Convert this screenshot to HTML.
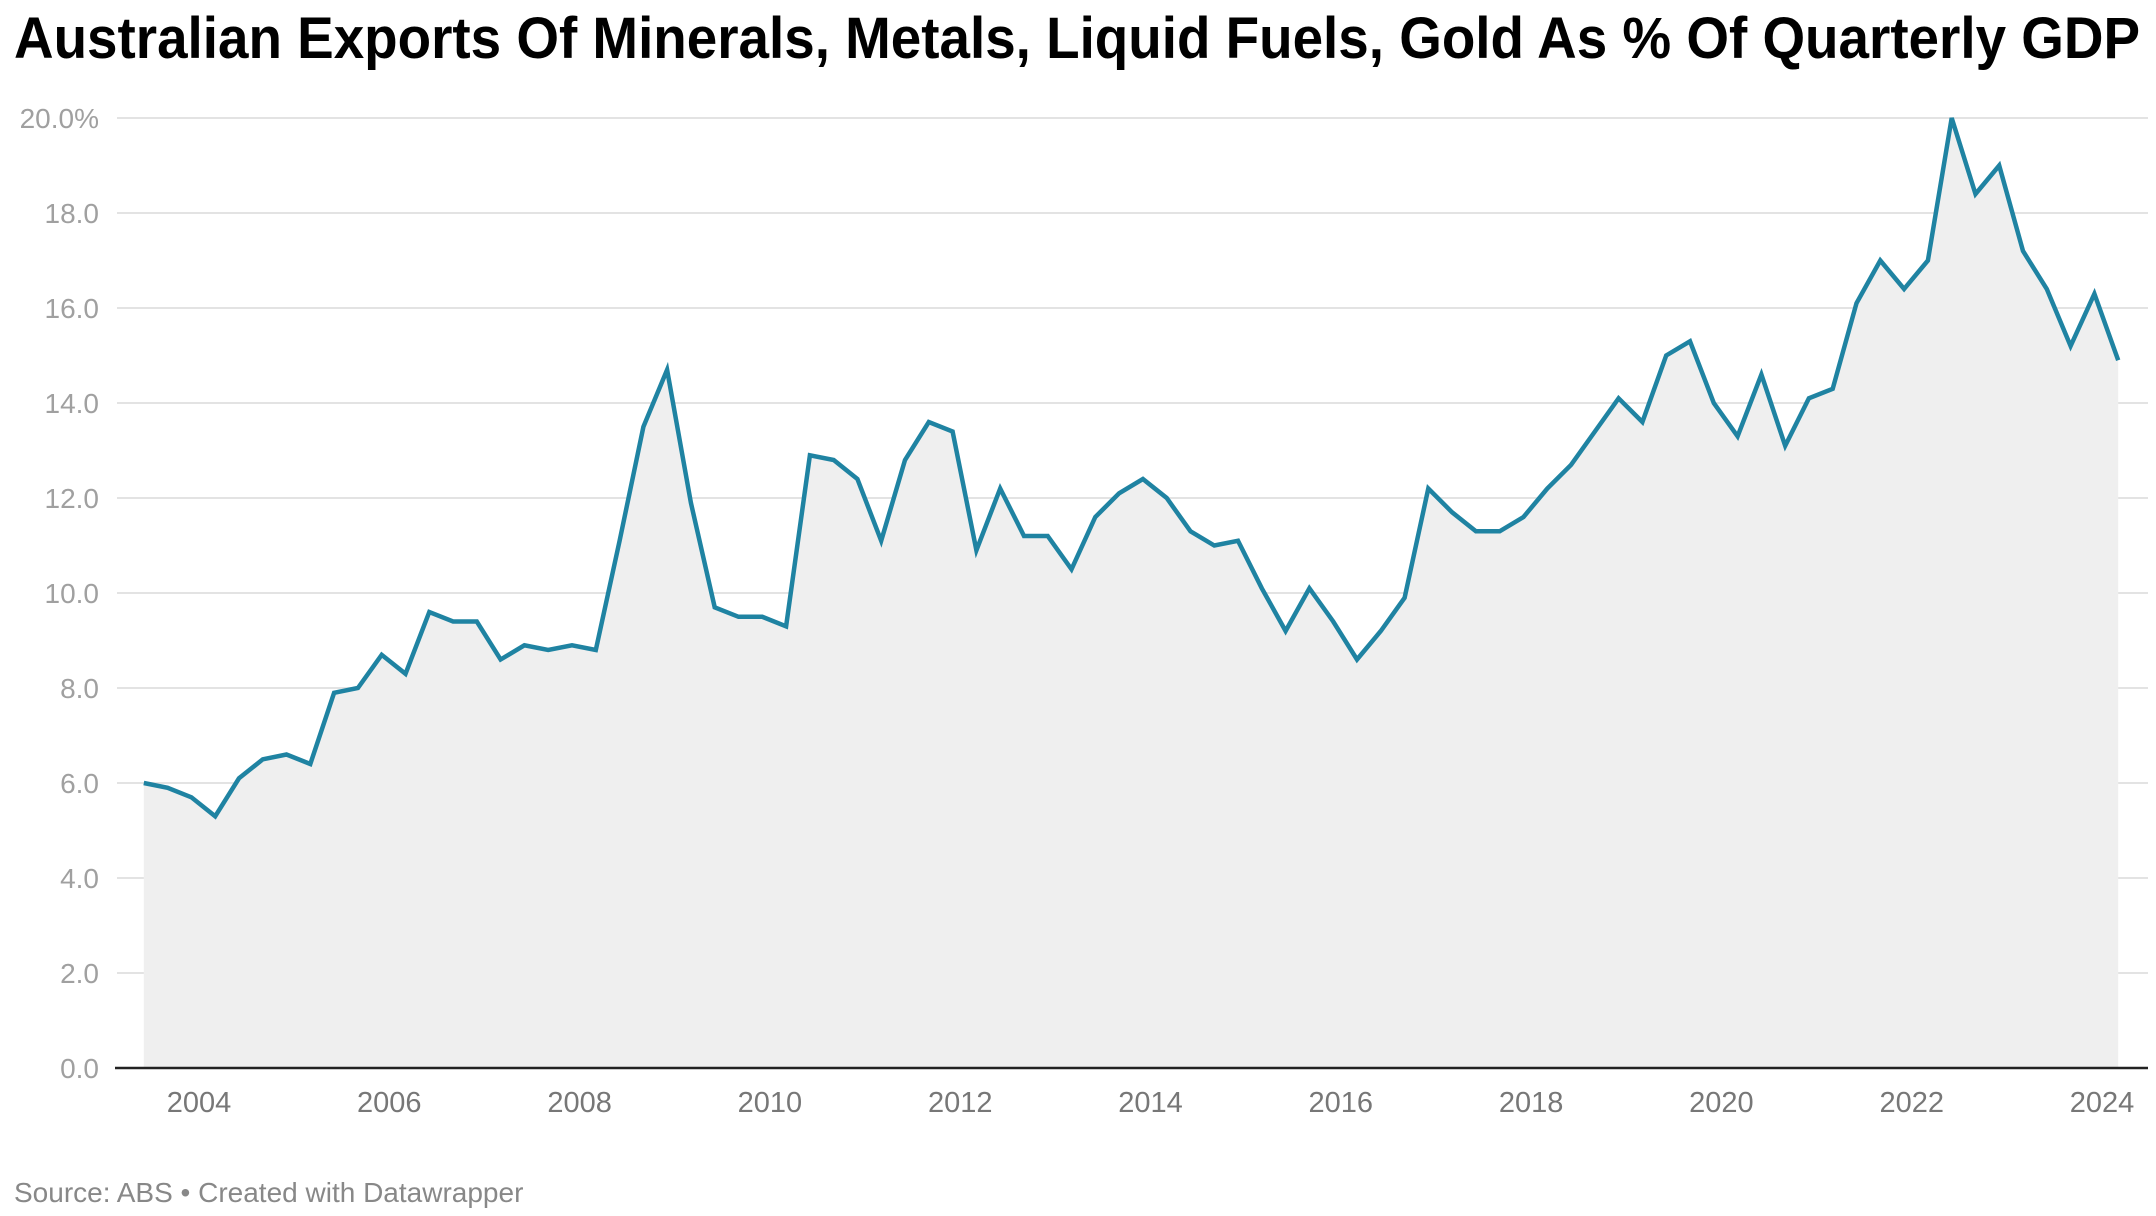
<!DOCTYPE html>
<html><head><meta charset="utf-8"><style>
html,body{margin:0;padding:0;background:#fff;}
svg{display:block;font-family:"Liberation Sans",sans-serif;}
</style></head><body>
<svg id="chart" width="2156" height="1216" viewBox="0 0 2156 1216">
<text x="14" y="58" font-size="58" font-weight="bold" fill="#000" textLength="2126" lengthAdjust="spacingAndGlyphs">Australian Exports Of Minerals, Metals, Liquid Fuels, Gold As % Of Quarterly GDP</text>
<g id="grid"></g>
<g id="yaxis"></g>
<path id="area" fill="#efefef"></path>
<line x1="115" x2="2148" y1="1068" y2="1068" stroke="#222" stroke-width="2.5"/>
<path id="line" fill="none" stroke="#1f83a2" stroke-width="4.5" stroke-linejoin="miter"></path>
<g id="xaxis"></g>
<text x="14" y="1202" font-size="28" fill="#888">Source: ABS • Created with Datawrapper</text>
</svg>
<script>
const values = [6.0,5.9,5.7,5.3,6.1,6.5,6.6,6.4,7.9,8.0,8.7,8.3,9.6,9.4,9.4,8.6,8.9,8.8,8.9,8.8,11.1,13.5,14.7,11.9,9.7,9.5,9.5,9.3,12.9,12.8,12.4,11.1,12.8,13.6,13.4,10.9,12.2,11.2,11.2,10.5,11.6,12.1,12.4,12.0,11.3,11.0,11.1,10.1,9.2,10.1,9.4,8.6,9.2,9.9,12.2,11.7,11.3,11.3,11.6,12.2,12.7,13.4,14.1,13.6,15.0,15.3,14.0,13.3,14.6,13.1,14.1,14.3,16.1,17.0,16.4,17.0,20.0,18.4,19.0,17.2,16.4,15.2,16.3,14.9];
const startYear = 2003.42;
const yTicks = [0,2,4,6,8,10,12,14,16,18,20];
const yTickLabels = ["0.0","2.0","4.0","6.0","8.0","10.0","12.0","14.0","16.0","18.0","20.0%"];
const xTicks = [2004,2006,2008,2010,2012,2014,2016,2018,2020,2022,2024];

const NS="http://www.w3.org/2000/svg";
function y(v){return 1068 - v*47.5;}
function xYear(t){return 199 + (t-2004)*95.15;}
function xIdx(i){return xYear(startYear + i*0.25);}

const grid=document.getElementById('grid'), ya=document.getElementById('yaxis'), xa=document.getElementById('xaxis');
yTicks.forEach((v,k)=>{
  if(v>0){
    const l=document.createElementNS(NS,'line');
    l.setAttribute('x1',117);l.setAttribute('x2',2148);
    l.setAttribute('y1',y(v));l.setAttribute('y2',y(v));
    l.setAttribute('stroke','#e3e3e3');l.setAttribute('stroke-width','2');
    
    
    grid.appendChild(l);
  }
  const t=document.createElementNS(NS,'text');
  t.setAttribute('x',99);t.setAttribute('y',y(v)+10);
  t.setAttribute('text-anchor','end');t.setAttribute('font-size','28');t.setAttribute('fill','#a0a0a0');
  t.textContent=yTickLabels[k];
  
  
  ya.appendChild(t);
});
xTicks.forEach(yr=>{
  const t=document.createElementNS(NS,'text');
  t.setAttribute('x',xYear(yr));t.setAttribute('y',1112);
  t.setAttribute('text-anchor','middle');t.setAttribute('font-size','29');t.setAttribute('fill','#777');
  t.textContent=yr;
  
  
  xa.appendChild(t);
});
let d='';
values.forEach((v,i)=>{d+=(i?'L':'M')+xIdx(i).toFixed(1)+' '+y(v).toFixed(1);});
document.getElementById('line').setAttribute('d',d);
document.getElementById('area').setAttribute('d',d+'L'+xIdx(values.length-1).toFixed(1)+' 1068L'+xIdx(0).toFixed(1)+' 1068Z');
</script>
</body></html>
